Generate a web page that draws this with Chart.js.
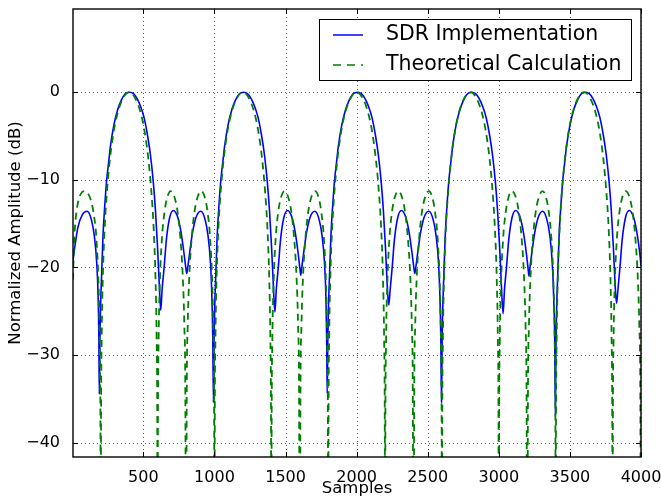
<!DOCTYPE html>
<html>
<head>
<meta charset="utf-8">
<script src="https://cdn.jsdelivr.net/npm/chart.js@4.4.1/dist/chart.umd.min.js"></script>
<style>
html,body{margin:0;padding:0;background:#fff;}
#wrap{width:661px;height:499px;position:relative;}
</style>
</head>
<body>
<div id="wrap"><canvas id="c" width="661" height="499"></canvas></div>
<script>
// ---- data ----
const seriesNames = ['SDR Implementation', 'Theoretical Calculation'];
const xTicks = [500, 1000, 1500, 2000, 2500, 3000, 3500, 4000];
const yTicks = [-40, -30, -20, -10, 0];

const sdrX = [
 5,20,40,70,104,135,155,172,182,187,190,194,199,206,216,227,242,257,268,293,319,345,371,405,430,455,480,505,530,550,570,585,600,612,622,632,646,662,685,711,740,765,785,798,805,812,825,845,870,904,935,955,972,982,988,993,
 997,1002,1009,1019,1030,1045,1060,1071,1096,1122,1148,1174,1206,1232,1257,1282,1307,1332,1352,1372,1387,1402,1414,1425,1435,1449,1465,1488,1514,1543,1568,1588,1600,1607,1614,1627,1647,1672,1706,1737,1757,1774,1784,1789,1793,
 1797,1802,1809,1819,1830,1845,1860,1871,1896,1922,1948,1974,2007,2033,2058,2083,2108,2133,2153,2173,2188,2203,2215,2226,2236,2250,2266,2289,2315,2344,2369,2389,2402,2409,2416,2429,2449,2474,2508,2539,2559,2576,2586,2592,2597,
 2601,2606,2613,2623,2634,2649,2664,2675,2700,2726,2752,2778,2810,2836,2861,2886,2911,2936,2956,2976,2991,3006,3018,3030,3040,3054,3070,3093,3119,3148,3173,3193,3205,3212,3219,3232,3252,3277,3308,3339,3359,3376,3386,3393,3398,
 3402,3407,3414,3424,3435,3450,3465,3476,3501,3527,3553,3579,3610,3636,3661,3686,3711,3736,3756,3776,3791,3806,3818,3828,3838,3852,3868,3891,3917,3946,3971,3991,4000
];
const sdrY = [
 -19.2,-17.4,-15.4,-14.0,-13.6,-14.6,-16.4,-19.5,-23.5,-28.0,-34.5,-28.5,-24.5,-21.0,-16.4,-13.3,-10.0,-7.8,-6.2,-3.7,-2.0,-0.9,-0.2,0,-0.15,-0.7,-1.6,-2.9,-5.0,-7.2,-10.3,-13.5,-17.8,-22.0,-24.9,-22.5,-20.0,-16.8,-14.3,-13.5,-14.2,-16.0,-18.3,-20.0,-20.7,-20.0,-18.4,-16.1,-14.3,-13.6,-14.6,-16.4,-19.5,-23.5,-28.0,-35.4,
 -28.5,-24.5,-21.0,-16.4,-13.3,-10.0,-7.8,-6.2,-3.7,-2.0,-0.9,-0.2,0,-0.15,-0.7,-1.6,-2.9,-5.0,-7.2,-10.3,-13.5,-17.8,-22.0,-25.1,-22.5,-20.0,-16.8,-14.3,-13.5,-14.2,-16.0,-18.3,-20.0,-20.9,-20.0,-18.4,-16.1,-14.3,-13.6,-14.6,-16.4,-19.5,-23.5,-28.0,-34.4,
 -28.5,-24.5,-21.0,-16.4,-13.3,-10.0,-7.8,-6.2,-3.7,-2.0,-0.9,-0.2,0,-0.15,-0.7,-1.6,-2.9,-5.0,-7.2,-10.3,-13.5,-17.8,-22.0,-24.3,-22.5,-20.0,-16.8,-14.3,-13.5,-14.2,-16.0,-18.3,-20.0,-20.7,-20.0,-18.4,-16.1,-14.3,-13.6,-14.6,-16.4,-19.5,-23.5,-28.0,-35.4,
 -28.5,-24.5,-21.0,-16.4,-13.3,-10.0,-7.8,-6.2,-3.7,-2.0,-0.9,-0.2,0,-0.15,-0.7,-1.6,-2.9,-5.0,-7.2,-10.3,-13.5,-17.8,-22.0,-25.3,-22.5,-20.0,-16.8,-14.3,-13.5,-14.2,-16.0,-18.3,-20.0,-21.0,-20.0,-18.4,-16.1,-14.3,-13.6,-14.6,-16.4,-19.5,-23.5,-28.0,-36.9,
 -28.5,-24.5,-21.0,-16.4,-13.3,-10.0,-7.8,-6.2,-3.7,-2.0,-0.9,-0.2,0,-0.15,-0.7,-1.6,-2.9,-5.0,-7.2,-10.3,-13.5,-17.8,-22.0,-24.1,-22.5,-20.0,-16.8,-14.3,-13.5,-14.2,-16.0,-18.3,-19.8
];

const theoX = [
 5,12,23,40,60,85,108,130,150,170,185,193,198,200,
 202,207,215,228,245,265,290,320,360,400,440,480,510,535,555,572,585,593,598,600,
 602,607,615,630,650,670,692,715,740,760,777,788,795,800,
 805,812,823,840,860,885,908,930,950,970,985,993,998,1000,
 1002,1007,1015,1028,1045,1065,1090,1120,1160,1200,1240,1280,1310,1335,1355,1372,1385,1393,1398,1400,
 1402,1407,1415,1430,1450,1470,1492,1515,1540,1560,1577,1588,1595,1600,
 1605,1612,1623,1640,1660,1685,1708,1730,1750,1770,1785,1793,1798,1800,
 1802,1807,1815,1828,1845,1865,1890,1920,1960,2000,2040,2080,2110,2135,2155,2172,2185,2193,2198,2200,
 2202,2207,2215,2230,2250,2270,2292,2315,2340,2360,2377,2388,2395,2400,
 2405,2412,2423,2440,2460,2485,2508,2530,2550,2570,2585,2593,2598,2600,
 2602,2607,2615,2628,2645,2665,2690,2720,2760,2800,2840,2880,2910,2935,2955,2972,2985,2993,2998,3000,
 3002,3007,3015,3030,3050,3070,3092,3115,3140,3160,3177,3188,3195,3200,
 3205,3212,3223,3240,3260,3285,3308,3330,3350,3370,3385,3393,3398,3400,
 3402,3407,3415,3428,3445,3465,3490,3520,3560,3600,3640,3680,3710,3735,3755,3772,3785,3793,3798,3800,
 3802,3807,3815,3830,3850,3870,3892,3915,3940,3960,3977,3988,3995,4000
];
const theoY = [
 -21.4,-17.5,-14.6,-12.6,-11.6,-11.3,-11.5,-12.3,-13.8,-16.8,-22.2,-28.5,-39.2,-60,
 -39.0,-28.0,-21.1,-15.4,-11.1,-7.6,-4.6,-2.3,-0.6,0,-0.6,-2.3,-4.6,-7.6,-11.1,-15.4,-21.1,-28.0,-39.0,-60,
 -39.2,-28.5,-22.2,-16.8,-13.5,-11.9,-11.3,-11.8,-13.6,-16.6,-21.0,-26.6,-34.2,-60,
 -34.2,-26.6,-21.0,-16.6,-13.6,-11.8,-11.3,-11.9,-13.5,-16.8,-22.2,-28.5,-39.2,-60,
 -39.0,-28.0,-21.1,-15.4,-11.1,-7.6,-4.6,-2.3,-0.6,0,-0.6,-2.3,-4.6,-7.6,-11.1,-15.4,-21.1,-28.0,-39.0,-60,
 -39.2,-28.5,-22.2,-16.8,-13.5,-11.9,-11.3,-11.8,-13.6,-16.6,-21.0,-26.6,-34.2,-60,
 -34.2,-26.6,-21.0,-16.6,-13.6,-11.8,-11.3,-11.9,-13.5,-16.8,-22.2,-28.5,-39.2,-60,
 -39.0,-28.0,-21.1,-15.4,-11.1,-7.6,-4.6,-2.3,-0.6,0,-0.6,-2.3,-4.6,-7.6,-11.1,-15.4,-21.1,-28.0,-39.0,-60,
 -39.2,-28.5,-22.2,-16.8,-13.5,-11.9,-11.3,-11.8,-13.6,-16.6,-21.0,-26.6,-34.2,-60,
 -34.2,-26.6,-21.0,-16.6,-13.6,-11.8,-11.3,-11.9,-13.5,-16.8,-22.2,-28.5,-39.2,-60,
 -39.0,-28.0,-21.1,-15.4,-11.1,-7.6,-4.6,-2.3,-0.6,0,-0.6,-2.3,-4.6,-7.6,-11.1,-15.4,-21.1,-28.0,-39.0,-60,
 -39.2,-28.5,-22.2,-16.8,-13.5,-11.9,-11.3,-11.8,-13.6,-16.6,-21.0,-26.6,-34.2,-60,
 -34.2,-26.6,-21.0,-16.6,-13.6,-11.8,-11.3,-11.9,-13.5,-16.8,-22.2,-28.5,-39.2,-60,
 -39.0,-28.0,-21.1,-15.4,-11.1,-7.6,-4.6,-2.3,-0.6,0,-0.6,-2.3,-4.6,-7.6,-11.1,-15.4,-21.1,-28.0,-39.0,-60,
 -39.2,-28.5,-22.2,-16.8,-13.5,-11.9,-11.3,-11.8,-13.6,-16.6,-21.0,-26.6,-34.2,-60
];

const xLimits = [5, 4000];
const yLimits = [-41.65, 9.5];
const xTitle = 'Samples';
const yTitle = 'Normalized Amplitude (dB)';

// ---- chart ----
const FONT = "'DejaVu Sans', 'Bitstream Vera Sans', sans-serif";
const BLUE = '#0000ff', GREEN = '#008000';
Chart.defaults.color = '#000';
Chart.defaults.font.family = FONT;

const toPts = (xs, ys) => xs.map((x, i) => ({x, y: ys[i]}));
const fmt = v => (v < 0 ? '\u2212' + Math.abs(v) : String(v));

const mplPlugin = {
  id: 'mpl',
  beforeDatasetsDraw(chart) {
    const {ctx, chartArea: a, scales: {x, y}} = chart;
    ctx.save();
    ctx.strokeStyle = 'rgba(0,0,0,0.65)';
    ctx.lineWidth = 1;
    ctx.setLineDash([1, 3]);
    ctx.beginPath();
    xTicks.forEach(v => {
      const p = Math.round(x.getPixelForValue(v)) + 0.5;
      ctx.moveTo(p, a.top); ctx.lineTo(p, a.bottom);
    });
    yTicks.forEach(v => {
      const p = Math.round(y.getPixelForValue(v)) + 0.5;
      ctx.moveTo(a.left, p); ctx.lineTo(a.right, p);
    });
    ctx.stroke();
    ctx.restore();
  },
  afterDatasetsDraw(chart) {
    const {ctx, chartArea: a, scales: {x, y}} = chart;
    ctx.save();
    ctx.strokeStyle = '#000';
    ctx.lineWidth = 1;
    ctx.beginPath();
    const L = 5;
    xTicks.forEach(v => {
      const p = Math.round(x.getPixelForValue(v)) + 0.5;
      ctx.moveTo(p, a.bottom); ctx.lineTo(p, a.bottom - L);
      ctx.moveTo(p, a.top); ctx.lineTo(p, a.top + L);
    });
    yTicks.forEach(v => {
      const p = Math.round(y.getPixelForValue(v)) + 0.5;
      ctx.moveTo(a.left, p); ctx.lineTo(a.left + L, p);
      ctx.moveTo(a.right, p); ctx.lineTo(a.right - L, p);
    });
    ctx.stroke();
    ctx.lineWidth = 1.4;
    ctx.strokeRect(a.left, a.top, a.right - a.left, a.bottom - a.top);
    ctx.restore();
  },
  afterDraw(chart) {
    const {ctx} = chart;
    ctx.save();
    const bx = 319.5, by = 19.5, bw = 312, bh = 61;
    ctx.fillStyle = '#fff';
    ctx.fillRect(bx, by, bw, bh);
    ctx.strokeStyle = '#000';
    ctx.lineWidth = 1;
    ctx.strokeRect(bx, by, bw, bh);
    const rows = [35, 65];
    ctx.lineWidth = 1.5;
    ctx.strokeStyle = BLUE;
    ctx.beginPath(); ctx.moveTo(333, rows[0]); ctx.lineTo(363, rows[0]); ctx.stroke();
    ctx.strokeStyle = GREEN;
    ctx.setLineDash([8, 6]);
    ctx.beginPath(); ctx.moveTo(333, rows[1]); ctx.lineTo(363, rows[1]); ctx.stroke();
    ctx.setLineDash([]);
    ctx.fillStyle = '#000';
    ctx.font = '20.5px ' + FONT;
    ctx.textBaseline = 'middle';
    ctx.textAlign = 'left';
    ctx.fillText(seriesNames[0], 386, rows[0]);
    ctx.fillText(seriesNames[1], 386, rows[1]);
    ctx.restore();
  }
};

new Chart(document.getElementById('c'), {
  type: 'line',
  data: {
    datasets: [
      {
        label: seriesNames[0],
        data: toPts(sdrX, sdrY),
        borderColor: BLUE,
        borderWidth: 1.6,
        pointRadius: 0,
        cubicInterpolationMode: 'monotone',
        order: 2
      },
      {
        label: seriesNames[1],
        data: toPts(theoX, theoY),
        borderColor: GREEN,
        borderWidth: 1.8,
        borderDash: [7, 5],
        pointRadius: 0,
        cubicInterpolationMode: 'monotone',
        order: 1
      }
    ]
  },
  options: {
    responsive: false,
    animation: false,
    devicePixelRatio: 1,
    layout: {padding: {top: 9, right: 20, left: 0, bottom: 0}},
    plugins: {legend: {display: false}, tooltip: {enabled: false}},
    scales: {
      x: {
        type: 'linear',
        min: xLimits[0], max: xLimits[1],
        afterBuildTicks: s => { s.ticks = xTicks.map(v => ({value: v})); },
        afterFit: s => { s.height = 42; s.paddingLeft = 0; s.paddingRight = 0; },
        grid: {display: false},
        border: {display: false},
        ticks: {font: {size: 16}, padding: 3, autoSkip: false, maxRotation: 0, callback: fmt},
        title: {display: true, text: xTitle, font: {size: 16.5}, padding: {top: 0, bottom: 0}}
      },
      y: {
        type: 'linear',
        min: yLimits[0], max: yLimits[1],
        afterBuildTicks: s => { s.ticks = yTicks.map(v => ({value: v})); },
        afterFit: s => { s.width = 73; s.paddingTop = 0; s.paddingBottom = 0; },
        grid: {display: false},
        border: {display: false},
        ticks: {font: {size: 16}, padding: 5, callback: fmt},
        title: {display: true, text: yTitle, font: {size: 16.5}, padding: {top: 6, bottom: 0}}
      }
    }
  },
  plugins: [mplPlugin]
});
</script>
</body>
</html>
